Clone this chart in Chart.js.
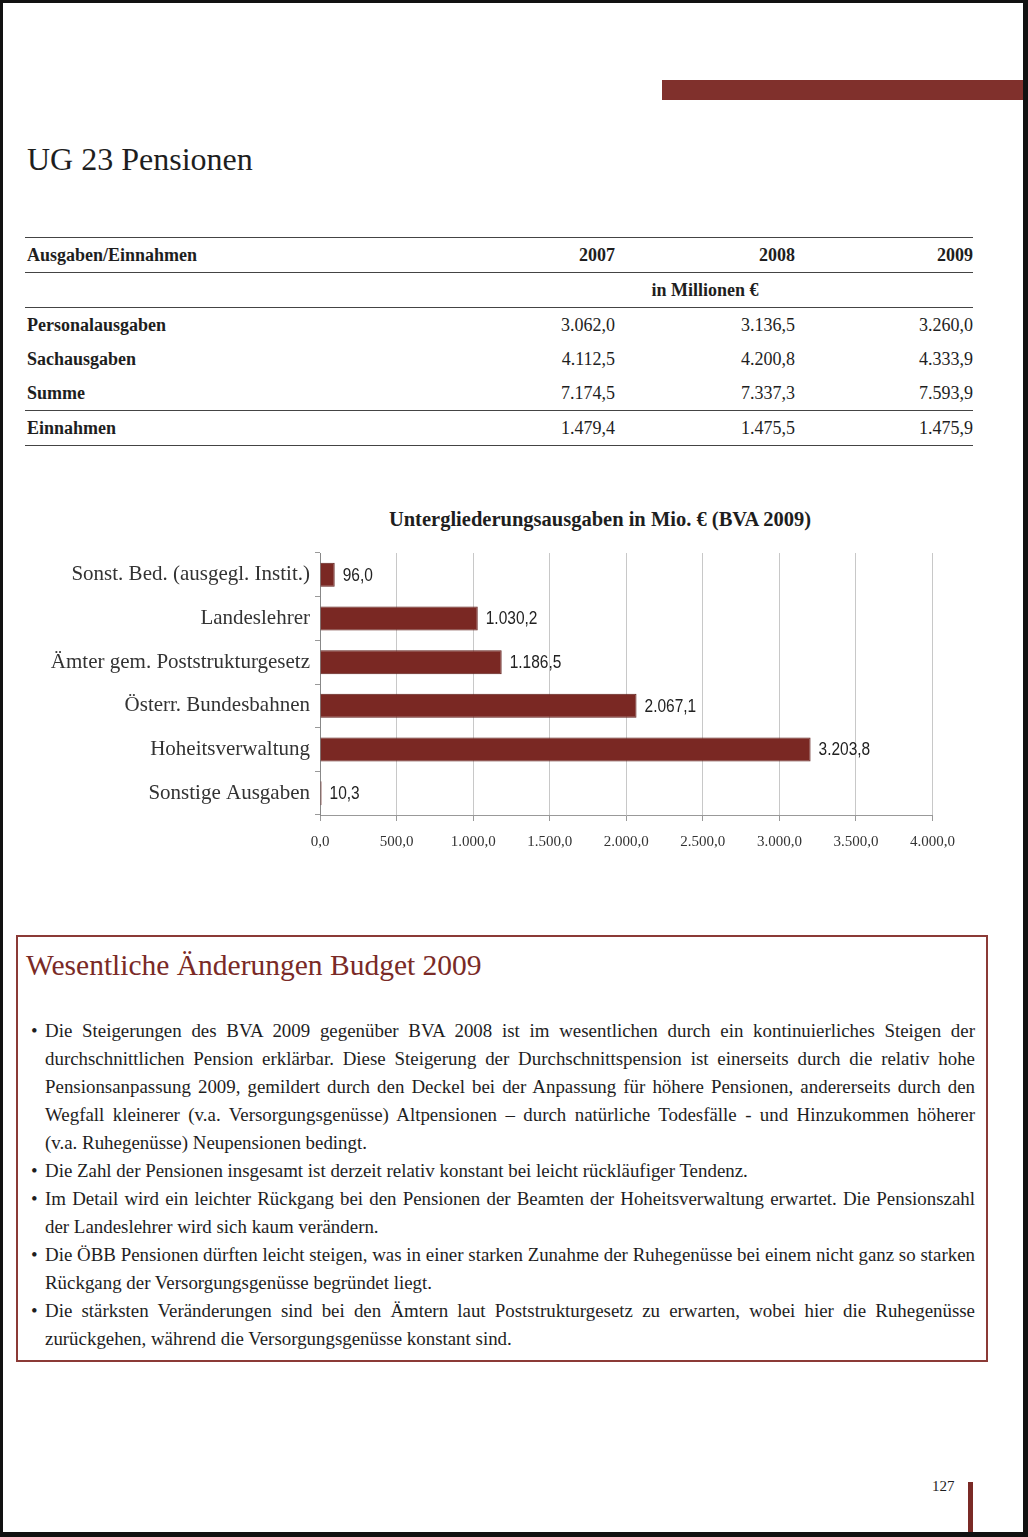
<!DOCTYPE html>
<html>
<head>
<meta charset="utf-8">
<script src="https://cdn.jsdelivr.net/npm/chart.js@4.4.0/dist/chart.umd.min.js"></script>
<style>
    body { margin: 0; background: #111; width: 1028px; height: 1537px; overflow: hidden; }
    #page { position: absolute; left: 3px; top: 3px; width: 1020px; height: 1529px; background: #fff;
            font-family: "Liberation Serif", "DejaVu Serif", serif; color: #1e1e1e; }
    .abs { position: absolute; }
    #topbar { left: 659px; top: 77px; width: 361px; height: 20px; background: #80302c; }
    #title { left: 24px; top: 138px; font-size: 32px; white-space: nowrap; }
    table { position: absolute; left: 22px; top: 234px; width: 948px; border-collapse: collapse; font-size: 18px; table-layout: fixed; }
    td { padding: 0; height: 34px; text-align: right; white-space: nowrap; }
    td:first-child { text-align: left; font-weight: bold; padding-left: 2px; }
    tr.line td { border-bottom: 1.5px solid #444; }
    tr.top td { border-top: 1.5px solid #444; }
    tr.head td { font-weight: bold; }
    #chartTitle { left: 0; top: 505px; width: 1194px; text-align: center; font-size: 20.5px; font-weight: bold; white-space: nowrap; }
    #chartWrap { left: 17px; top: 492px; width: 947px; height: 378px; }
    #box { left: 13px; top: 932px; width: 968px; height: 423px; border: 2px solid #8b3a36; }
    #boxhead { left: 8px; top: 12px; font-size: 29.5px; color: #7a2a26; white-space: nowrap; }
    #bullets { left: 13px; top: 80px; width: 944px; font-size: 18.9px; line-height: 28px; }
    .p { position: relative; padding-left: 14px; }
    .p::before { content: "\2022"; position: absolute; left: 0; top: 0; }
    .l { display: block; text-align: justify; text-align-last: justify; white-space: nowrap; }
    .l.last { text-align-last: left; }
    #pnum { left: 929px; top: 1475px; font-size: 15px; }
    #pbar { left: 965px; top: 1479px; width: 5px; height: 50px; background: #7a2a26; }
</style>
</head>
<body>
<div id="page">
    <div id="topbar" class="abs"></div>
    <div id="title" class="abs">UG 23 Pensionen</div>

    <table>
        <colgroup><col style="width:493px"><col style="width:97px"><col style="width:180px"><col style="width:178px"></colgroup>
        <tr class="top line head"><td>Ausgaben/Einnahmen</td><td>2007</td><td>2008</td><td>2009</td></tr>
        <tr class="line head"><td></td><td></td><td style="text-align:center">in Millionen €</td><td></td></tr>
        <tr><td>Personalausgaben</td><td>3.062,0</td><td>3.136,5</td><td>3.260,0</td></tr>
        <tr><td>Sachausgaben</td><td>4.112,5</td><td>4.200,8</td><td>4.333,9</td></tr>
        <tr class="line"><td>Summe</td><td>7.174,5</td><td>7.337,3</td><td>7.593,9</td></tr>
        <tr class="line"><td>Einnahmen</td><td>1.479,4</td><td>1.475,5</td><td>1.475,9</td></tr>
    </table>

    <div id="chartTitle" class="abs">Untergliederungsausgaben in Mio. € (BVA 2009)</div>
    <div id="chartWrap" class="abs"><canvas id="chart" width="947" height="378"></canvas></div>

    <div id="box" class="abs">
        <div id="boxhead" class="abs">Wesentliche Änderungen Budget 2009</div>
        <div id="bullets" class="abs">
            <div class="p">
                <span class="l">Die Steigerungen des BVA 2009 gegenüber BVA 2008 ist im wesentlichen durch ein kontinuierliches Steigen der</span>
                <span class="l">durchschnittlichen Pension erklärbar. Diese Steigerung der Durchschnittspension ist einerseits durch die relativ hohe</span>
                <span class="l">Pensionsanpassung 2009, gemildert durch den Deckel bei der Anpassung für höhere Pensionen, andererseits durch den</span>
                <span class="l">Wegfall kleinerer (v.a. Versorgungsgenüsse) Altpensionen – durch natürliche Todesfälle - und Hinzukommen höherer</span>
                <span class="l last">(v.a. Ruhegenüsse) Neupensionen bedingt.</span>
            </div>
            <div class="p">
                <span class="l last">Die Zahl der Pensionen insgesamt ist derzeit relativ konstant bei leicht rückläufiger Tendenz.</span>
            </div>
            <div class="p">
                <span class="l">Im Detail wird ein leichter Rückgang bei den Pensionen der Beamten der Hoheitsverwaltung erwartet. Die Pensionszahl</span>
                <span class="l last">der Landeslehrer wird sich kaum verändern.</span>
            </div>
            <div class="p">
                <span class="l">Die ÖBB Pensionen dürften leicht steigen, was in einer starken Zunahme der Ruhegenüsse bei einem nicht ganz so starken</span>
                <span class="l last">Rückgang der Versorgungsgenüsse begründet liegt.</span>
            </div>
            <div class="p">
                <span class="l">Die stärksten Veränderungen sind bei den Ämtern laut Poststrukturgesetz zu erwarten, wobei hier die Ruhegenüsse</span>
                <span class="l last">zurückgehen, während die Versorgungsgenüsse konstant sind.</span>
            </div>
        </div>
    </div>

    <div id="pnum" class="abs">127</div>
    <div id="pbar" class="abs"></div>
</div>

<script>
// Chart data (Mio. €, BVA 2009)
const categories = [
    "Sonst. Bed. (ausgegl. Instit.)",
    "Landeslehrer",
    "Ämter gem. Poststrukturgesetz",
    "Österr. Bundesbahnen",
    "Hoheitsverwaltung",
    "Sonstige Ausgaben"
];
const values = [96.0, 1030.2, 1186.5, 2067.1, 3203.8, 10.3];
const xMin = 0;
const xMax = 4000;
const xStep = 500;

// German number format: 1.234,5
function fmt(v) {
    const parts = v.toFixed(1).split(".");
    const intPart = parts[0].replace(/\B(?=(\d{3})+(?!\d))/g, ".");
    return intPart + "," + parts[1];
}

// Draw the value right of every bar
const valueLabels = {
    id: "valueLabels",
    afterDatasetsDraw(chart) {
        const ctx = chart.ctx;
        const meta = chart.getDatasetMeta(0);
        ctx.save();
        ctx.fillStyle = "#222";
        ctx.font = "18px 'Liberation Sans', Arial, sans-serif";
        ctx.textBaseline = "middle";
        meta.data.forEach((bar, i) => {
            ctx.save();
            ctx.translate(bar.x + 8, bar.y + 1);
            ctx.scale(0.86, 1);
            ctx.fillText(fmt(values[i]), 0, 0);
            ctx.restore();
        });
        ctx.restore();
    }
};

new Chart(document.getElementById("chart"), {
    type: "bar",
    data: {
        labels: categories,
        datasets: [{
            data: values,
            backgroundColor: "#7a2823",
            borderColor: "#5e1c18",
            borderWidth: 1,
            barPercentage: 0.55,
            categoryPercentage: 1
        }]
    },
    options: {
        indexAxis: "y",
        responsive: false,
        animation: false,
        layout: { padding: { right: 28, bottom: 10, left: 0, top: 58 } },
        plugins: {
            legend: { display: false },
            tooltip: { enabled: false },
            title: { display: false }
        },
        scales: {
            x: {
                min: xMin,
                max: xMax,
                ticks: {
                    stepSize: xStep,
                    padding: 12,
                    color: "#333",
                    font: { family: "'Liberation Serif', serif", size: 15 },
                    callback: (v) => fmt(v)
                },
                grid: { color: "#c8c8c8", tickLength: 6, tickColor: "#999" },
                border: { color: "#999" }
            },
            y: {
                offset: true,
                ticks: {
                    padding: 5,
                    color: "#333",
                    font: { family: "'Liberation Serif', serif", size: 21 }
                },
                grid: { drawOnChartArea: false, offset: true, tickLength: 5, color: "#999" },
                border: { color: "#888" },
                afterFit(scale) { scale.width = 300; }
            }
        }
    },
    plugins: [valueLabels]
});
</script>
</body>
</html>
